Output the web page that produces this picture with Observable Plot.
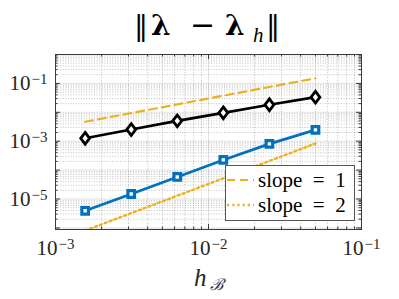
<!DOCTYPE html>
<html><head><meta charset="utf-8">
<script src="https://cdn.jsdelivr.net/npm/d3@7"></script>
<script src="https://cdn.jsdelivr.net/npm/@observablehq/plot@0.6"></script>
<style>body{margin:0;background:#fff} #chart{width:399px;height:299px}</style>
</head><body><div id="chart"></div>
<script>
// ---- data ----
const hB = [1/640, 1/320, 1/160, 1/80, 1/40, 1/20];
const errBlack = [1.26e-3, 2.53e-3, 5.07e-3, 9.6e-3, 1.82e-2, 3.33e-2];
const errBlue = [3.9e-6, 1.49e-5, 5.8e-5, 2.25e-4, 8.07e-4, 2.47e-3];
const slopeX = [1/640, 1/20];
const slope1Y = [4.7e-3, 0.15];
const slope2Y = [8.1e-7, 8.3e-4];
const legendLabels = ["slope\u2002=\u20021", "slope\u2002=\u20022"];
const xTickLabels = [1e-3, 1e-2, 1e-1];
const yTickLabels = [1e-5, 1e-3, 1e-1];
const xMajor = [1e-3, 1e-2, 1e-1];
const yMajor = [1e-6, 1e-5, 1e-4, 1e-3, 1e-2, 1e-1, 1];
const mult = [2, 3, 4, 5, 6, 7, 8, 9];
const xMinor = [1e-3, 1e-2].flatMap(d => mult.map(m => m * d));
const yMinor = [1e-7, 1e-6, 1e-5, 1e-4, 1e-3, 1e-2, 1e-1].flatMap(d => mult.map(m => m * d)).filter(v => v >= 8.8e-7 && v <= 1);

const W = 399, H = 299, ML = 55, MR = 38, MT = 54, MB = 70;
const FW = W - ML - MR, FH = H - MT - MB;
const axisCol = "#3a3a3a";
const orange = "#EDB120", blue = "#0072BD";
const SERIF = "'Liberation Serif', 'DejaVu Serif', serif";
const DSERIF = "'DejaVu Serif', serif";

const blackData = hB.map((x, i) => ({x, y: errBlack[i]}));
const blueData = hB.map((x, i) => ({x, y: errBlue[i]}));
const s1 = slopeX.map((x, i) => ({x, y: slope1Y[i]}));
const s2 = slopeX.map((x, i) => ({x, y: slope2Y[i]}));

const tallDiamond = {draw(ctx, size) {
  const s = Math.sqrt(size), w = s * 0.5, h = s * 0.66;
  ctx.moveTo(0, -h); ctx.lineTo(w, 0); ctx.lineTo(0, h); ctx.lineTo(-w, 0); ctx.closePath();
}};

const fmt = d => "10^" + Math.round(Math.log10(d));

const chart = Plot.plot({
  width: W, height: H,
  marginLeft: ML, marginRight: MR, marginTop: MT, marginBottom: MB,
  style: {fontFamily: SERIF, fontSize: "21px", color: "#262626", background: "#fff"},
  x: {type: "log", domain: [1e-3, 1e-1], axis: null},
  y: {type: "log", domain: [8.8e-7, 1], axis: null},
  marks: [
    Plot.ruleX(xMinor, {x: d => d, stroke: "#262626", strokeOpacity: 0.28, strokeDasharray: "1,1.6"}),
    Plot.ruleY(yMinor, {y: d => d, stroke: "#262626", strokeOpacity: 0.28, strokeDasharray: "1,1.6"}),
    Plot.ruleX(xMajor, {x: d => d, stroke: "#262626", strokeOpacity: 0.13}),
    Plot.ruleY(yMajor, {y: d => d, stroke: "#262626", strokeOpacity: 0.13}),
    Plot.frame({stroke: axisCol, strokeWidth: 1}),
    Plot.tickX(xMajor, {x: d => d, insetTop: FH - 5, stroke: axisCol}),
    Plot.tickX(xMajor, {x: d => d, insetBottom: FH - 5, stroke: axisCol}),
    Plot.tickX(xMinor, {x: d => d, insetTop: FH - 2.5, stroke: axisCol}),
    Plot.tickX(xMinor, {x: d => d, insetBottom: FH - 2.5, stroke: axisCol}),
    Plot.tickY(yMajor, {y: d => d, insetRight: FW - 5, stroke: axisCol}),
    Plot.tickY(yMajor, {y: d => d, insetLeft: FW - 5, stroke: axisCol}),
    Plot.tickY(yMinor, {y: d => d, insetRight: FW - 2.5, stroke: axisCol}),
    Plot.tickY(yMinor, {y: d => d, insetLeft: FW - 2.5, stroke: axisCol}),
    Plot.axisX(xTickLabels, {anchor: "bottom", tickSize: 0, tickPadding: 11, tickFormat: fmt, label: null, fontSize: 21}),
    Plot.axisY(yTickLabels, {anchor: "left", tickSize: 0, tickPadding: 8, tickFormat: fmt, label: null, fontSize: 21}),
    Plot.line(s1, {x: "x", y: "y", stroke: orange, strokeWidth: 2.2, strokeDasharray: "8,5", clip: true}),
    Plot.line(s2, {x: "x", y: "y", stroke: orange, strokeWidth: 2.4, strokeDasharray: "2.2,3", clip: true}),
    Plot.line(blackData, {x: "x", y: "y", stroke: "#000", strokeWidth: 2.7}),
    Plot.line(blueData, {x: "x", y: "y", stroke: blue, strokeWidth: 2.7}),
    Plot.dot(blackData, {x: "x", y: "y", symbol: tallDiamond, r: 5, stroke: "#000", fill: "#fff", strokeWidth: 2.8}),
    Plot.dot(blueData, {x: "x", y: "y", symbol: "square2", r: 4.2, stroke: blue, fill: "#fff", strokeWidth: 3.2})
  ]
});
document.getElementById("chart").appendChild(chart);

const svg = d3.select(chart);
// superscript tick labels
svg.selectAll('g[aria-label="x-axis tick label"] text, g[aria-label="y-axis tick label"] text').each(function() {
  const t = d3.select(this);
  const m = t.text().match(/^10\^(-?\d+)$/);
  if (!m) return;
  t.attr("fill", "#262626");
  t.text("");
  t.append("tspan").text("10");
  t.append("tspan").attr("dy", "-0.4em").style("font-size", "15px").attr("dx", "1").text(m[1].replace("-", "\u2212"));
});

function addText(parent, y, family) {
  return parent.append("text").attr("y", y).attr("text-anchor", "start")
    .style("font-family", family || SERIF).attr("fill", "#000");
}

// title
const title = addText(svg, 35, DSERIF).style("font-size", "28px");
title.append("tspan").attr("x", 134).text("\u2016");
title.append("tspan").attr("x", 151).style("font-weight", "bold").text("\u03bb");
title.append("tspan").attr("x", 190).style("font-size", "30px").text("\u2212");
title.append("tspan").attr("x", 225).style("font-weight", "bold").text("\u03bb");
title.append("tspan").attr("x", 253).attr("dy", 7).style("font-family", SERIF).style("font-style", "italic").style("font-size", "21px").text("h");
title.append("tspan").attr("x", 266).attr("dy", -7).text("\u2016");

// x label
const xl = addText(svg, 286).attr("fill", "#262626");
xl.append("tspan").attr("x", 194).style("font-size", "25px").style("font-style", "italic").text("h");
xl.append("tspan").attr("x", 210).attr("dy", 4).style("font-size", "16px").style("font-style", "italic").text("\u212C");

// legend
const lg = svg.append("g");
lg.append("rect").attr("x", 225.5).attr("y", 165.5).attr("width", 129).attr("height", 55).attr("fill", "#fff").attr("stroke", "#555").attr("stroke-width", 1);
[["8,5", 2.2, 180], ["2.2,3", 2.4, 205]].forEach(([da, sw, y], i) => {
  lg.append("line").attr("x1", 227).attr("x2", 254).attr("y1", y).attr("y2", y).attr("stroke", orange).attr("stroke-width", sw).attr("stroke-dasharray", da);
  addText(lg, y + 7).attr("x", 258).style("font-size", "21px").text(legendLabels[i]);
});
</script>
</body></html>
